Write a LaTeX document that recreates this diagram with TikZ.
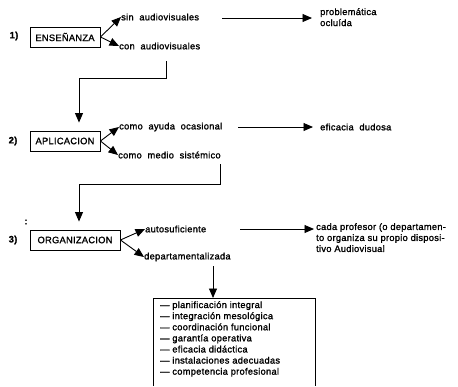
\documentclass[tikz,border=0pt]{standalone}
\usepackage{fontspec}
\setmainfont{Liberation Sans}[LetterSpace=3,FakeBold=1.4]
\usetikzlibrary{arrows.meta}
\begin{document}
\begin{tikzpicture}[x=1pt,y=-1pt,
  txt/.style={anchor=west,inner sep=0pt,font=\fontsize{9.3}{11}\selectfont},
  num/.style={inner sep=0pt,font=\fontsize{9.3}{11}\selectfont\bfseries},
  box/.style={draw,line width=0.9pt,inner sep=0pt,minimum height=20pt,font=\fontsize{9.3}{11}\selectfont},
  arr/.style={-{Triangle[length=9.5pt,width=8pt]},line width=0.9pt},
  conn/.style={line width=0.9pt}]
\useasboundingbox (0,0) rectangle (458,386);

% row 1
\node[num] (n1) at (14,36) {1)};
\node[box,minimum width=70pt] (e1) at (65,37) {ENSEÑANZA};
\node[txt] (t1a) at (121,17) {sin\ \ audiovisuales};
\node[txt] (t1b) at (119,46) {con\ \ audiovisuales};
\node[txt,align=left,anchor=north west] (p1) at (320,8) {problemática\\ocluída};
\draw[arr] (e1.east) -- (t1a.west);
\draw[arr] (e1.east) -- (t1b.west);
\coordinate (a1) at (222,18);
\draw[arr] (a1) -- (312,18);

% row 2
\node[num] (n2) at (13,141) {2)};
\node[box,minimum width=70pt] (e2) at (65,141) {APLICACION};
\node[txt] (t2a) at (119,127) {como\ \ ayuda\ \ ocasional};
\node[txt] (t2b) at (118,155) {como\ \ medio\ \ sistémico};
\node[txt] (p2) at (320,127) {eficacia\ \ dudosa};
\draw[arr] (e2.east) -- (t2a.west);
\draw[arr] (e2.east) -- (t2b.west);
\coordinate (a2) at (238,127);
\draw[arr] (a2) -- ([xshift=-7pt]p2.west);
\coordinate (c1) at (166,61);
\draw[arr] (c1) -- ++(0,17) -| ([xshift=14pt,yshift=8pt]e2.north);

% row 3
\node[num] (dots) at (26,222) {:};
\node[num] (n3) at (13,240) {3)};
\node[box,minimum width=90pt] (e3) at (75,240) {ORGANIZACION};
\node[txt] (t3a) at (145,229) {autosuficiente};
\node[txt] (t3b) at (144,257) {departamentalizada};
\node[txt,align=left,anchor=north west] (p3) at (316,223) {cada profesor (o departamen-\\to organiza su propio disposi-\\tivo Audiovisual};
\draw[arr] (e3.east) -- (t3a.west);
\draw[arr] (e3.east) -- (t3b.west);
\coordinate (a3) at (240,229);
\draw[arr] (a3) -- (314,229);
\coordinate (c2) at (220,164);
\draw[arr] (c2) -- ++(0,20) -| ([xshift=4pt,yshift=8pt]e3.north);

% list box (open at the bottom edge of the picture)
\node[anchor=north west,align=left,inner sep=0pt,
      font=\fontsize{9.3}{11.1}\selectfont] (lst) at (160,301)
  {— planificación integral\\— integración mesológica\\— coordinación funcional\\— garantía operativa\\— eficacia didáctica\\— instalaciones adecuadas\\— competencia profesional};
\coordinate (bl) at (153,386);
\coordinate (bt) at (153,298);
\coordinate (br) at (315,386);
\draw[line width=0.9pt] (bl) |- (br |- bt) -- (br);
\coordinate (c3) at (213,266);
\draw[arr] (c3) -- (c3 |- bt);
\end{tikzpicture}
\end{document}
